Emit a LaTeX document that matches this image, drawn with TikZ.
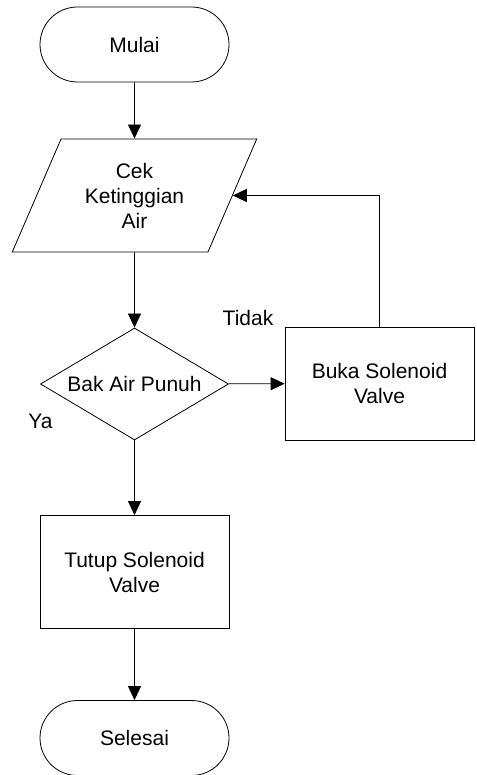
\documentclass[tikz,border=0pt]{standalone}
\usepackage{fontspec}
\setmainfont{Liberation Sans}
\usetikzlibrary{shapes.geometric,shapes.misc,arrows.meta,positioning,calc}
\begin{document}
\begin{tikzpicture}[x=1pt,y=-1pt,
  every node/.style={font=\fontsize{21}{25}\selectfont, align=center, inner sep=0pt},
  base/.style={draw=black, line width=0.8pt},
  term/.style={base, rounded rectangle, minimum width=189pt, minimum height=75pt},
  io/.style={base, trapezium, trapezium stretches=true, trapezium left angle=63.2, trapezium right angle=116.8, minimum width=245pt, minimum height=113pt},
  decision/.style={base, diamond, aspect=1.68, minimum width=188pt, minimum height=112pt},
  process/.style={base, rectangle, minimum width=189pt, minimum height=113pt},
  flow/.style={line width=0.8pt, -{Triangle[length=14pt,width=13pt]}},
  lbl/.style={}
]
\useasboundingbox (0,0) rectangle (476,775);
\node[term] (mulai) at (134.5,44.5) {Mulai};
\node[io] (cek) at (134.5,195.5) {Cek\\Ketinggian\\Air};
\node[decision] (bak) at (134.5,384) {Bak Air Punuh};
\node[process] (buka) at (379.5,383.5) {Buka Solenoid\\Valve};
\node[process] (tutup) at (134.5,572) {Tutup Solenoid\\Valve};
\node[term] (selesai) at (134.5,738) {Selesai};
\coordinate (cekR) at ($(cek.top right corner)!0.5!(cek.bottom right corner)$);
\node[lbl] (tidak) at (248,318) {Tidak};
\node[lbl] (ya) at (40.5,421) {Ya};
\draw[flow] (mulai) -- (cek);
\draw[flow] (cek) -- (bak);
\draw[flow] (bak) -- (buka);
\draw[flow] (bak) -- (tutup);
\draw[flow] (tutup) -- (selesai);
\draw[flow] (buka.north) |- (cekR);
\end{tikzpicture}
\end{document}
